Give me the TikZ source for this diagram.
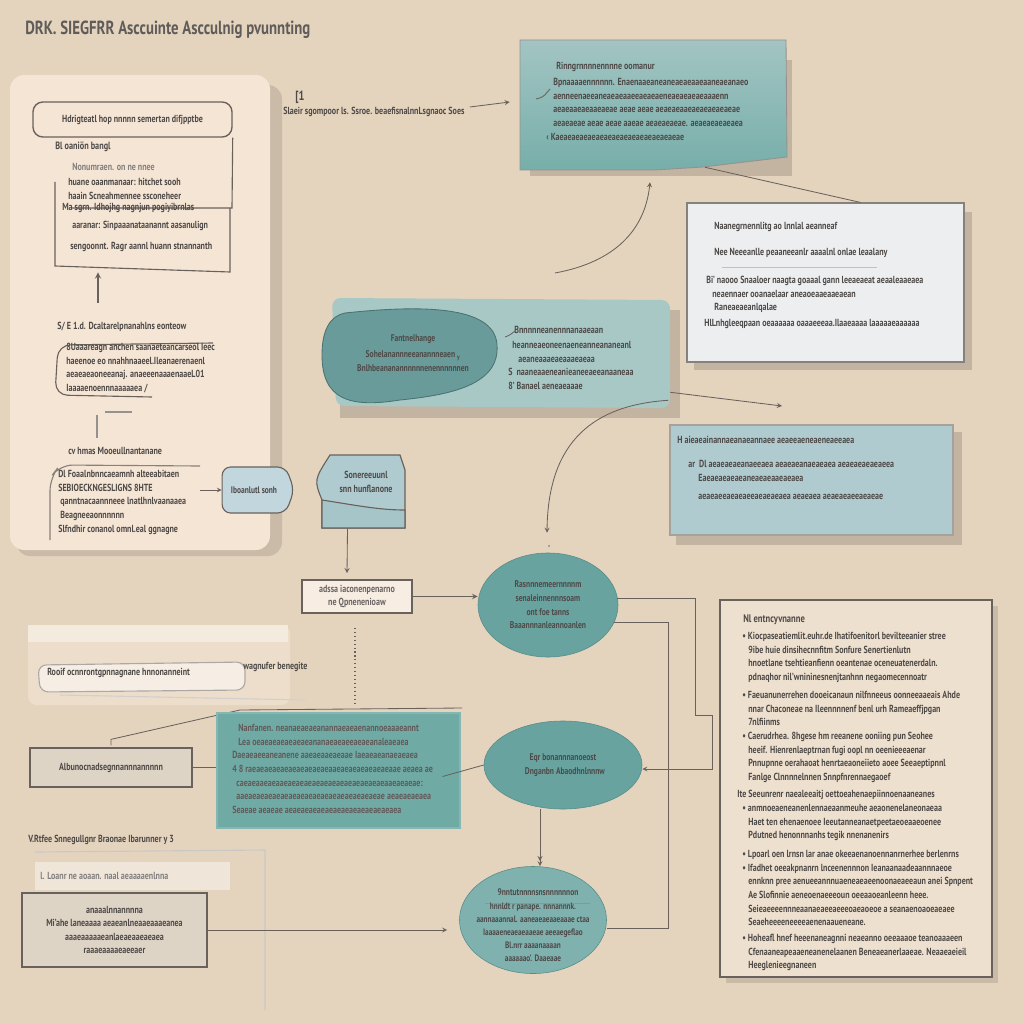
\documentclass[tikz,border=0pt]{standalone}
\usepackage{fontspec}
\setmainfont{PT Sans}[FakeStretch=0.78]
\usetikzlibrary{shapes.geometric, shapes.symbols, arrows, calc, fit}
\definecolor{bgc}{RGB}{228,212,190}
\definecolor{peachc}{RGB}{245,229,213}
\definecolor{tealmid}{RGB}{152,190,188}
\definecolor{tealdark}{RGB}{104,163,160}
\definecolor{tealbox}{RGB}{112,170,165}
\definecolor{lightblue}{RGB}{176,203,208}
\definecolor{tagblue}{RGB}{194,214,222}
\definecolor{whitec}{RGB}{236,238,240}
\definecolor{grayc}{RGB}{222,212,198}
\definecolor{panelc}{RGB}{238,224,206}
\definecolor{linec}{RGB}{105,98,92}
\definecolor{inkc}{RGB}{78,74,72}
\tikzstyle{txt} = [font=\fontsize{7.3}{9.7}\selectfont\bfseries, text=inkc, inner sep=0pt, align=left, anchor=north west]
\tikzstyle{ctxt} = [txt, align=center, anchor=center]
\tikzstyle{line} = [draw=linec, line width=0.8pt]
\tikzstyle{arrow} = [line, ->, >=stealth]
\tikzstyle{frame} = [inner sep=0pt]
\tikzstyle{oval} = [ellipse, fill=tealdark, draw=tealdark!85!black, line width=0.4pt, text=inkc, font=\fontsize{6.9}{9.7}\selectfont\bfseries, align=center]

\begin{document}
\begin{tikzpicture}[x=0.025cm, y=-0.025cm]
		\fill[bgc] (0,0) rectangle (1024,1024);

		%Title
		\node[txt, anchor=west, font=\fontsize{13.5}{15}\selectfont\bfseries, text=inkc!90] (title) at (25,30) {DRK. SIEGFRR Asccuinte Ascculnig pvunnting};

		%Left panel
		\fill[bgc!88!black, rounded corners=10pt] (16,85) rectangle (282,556);
		\fill[peachc, rounded corners=10pt] (10,75) rectangle (270,550);
		\node[fit={(33,102) (232,137)}, frame, draw=linec, line width=1pt, rounded corners=7pt] (l_box1) {};
		\node[ctxt] (l_box1_t) at (l_box1) {Hdrigteatl hop nnnnn semertan difjpptbe};
		\draw[line] (l_box1.south east) -- (232,208) -- (72,208);
		\node[fit={(55,208) (230,272)}, frame] (l_box2) {};
		\draw[line] (55,182) -- (55,266) -- (230,272) -- (230,208);
		\node[txt, font=\fontsize{7.5}{9}\selectfont\bfseries] (l_head1) at (55,142) {Bl oaniön bangl};
		\node[txt, text=inkc!70] (l_sub1) at (72,163) {Nonumraen. on ne nnee};
		\node[txt] (l_list1) at (68,178) {huane oaanmanaar: hitchet sooh\\haain Scneahmennee ssconeheer};
		\node[txt] (l_list2) at (62,203) {Ma sgrn. Idhojhg nagnjun pogiyibrnlas};
		\node[txt] (l_list3) at (72,221) {aaranar: Sinpaaanataanannt aasanulign};
		\node[txt] (l_list4) at (70,242) {sengoonnt. Ragr aannl huann stnannanth};
		\coordinate (l_up) at (98,303);
		\draw[arrow, line width=1pt] (l_up) -- (l_up |- l_box2.south);

		\node[txt] (l_head2) at (57,322) {S/ E 1.d. Dcaltarelpnanahlns eonteow};
		\node[fit={(55,342) (215,397)}, frame] (l_box2b) {};
		\draw[line, rounded corners=9pt] (213,343) -- (58,345) -- (55,395) -- (152,397);
		\node[txt] (l_list5) at (66,343) {8Uaaareagn anchen saanaeteancarseol Ieec\\haeenoe eo nnahhnaaeel.Ileanaerenaenl\\aeaeaeaoneeanaj. anaeeenaaaenaaeL01\\Iaaaaenoennnaaaaaea /};
		\draw[line, linec!70] (105,412) -- (132,412);
		\draw[line, linec!70] (97,415) -- (97,438);

		\node[txt] (l_head3) at (68,447) {cv  hmas Mooeullnantanane};
		\node[fit={(50,465) (200,540)}, frame] (l_box3) {};
		\draw[line, linec!80, rounded corners=9pt] (200,466) -- (60,465) -- (50,478) -- (50,540);
		\node[txt] (l_list6) at (58,470) {Dl Foaalnbnncaeamnh alteeabitaen\\SEBIOECKNGESLIGNS 8HTE\\{\ }qanntnacaannneee lnatlhnlvaanaaea\\{\ }Beagneeaonnnnnn\\Slfndhir conanol omnl.eal ggnagne};

		%Tag and blue box
		\node[signal, signal to=east, signal pointer angle=140, fill=tagblue, draw=linec, line width=0.8pt, rounded corners=6pt, minimum width=1.8cm, minimum height=1.15cm, font=\fontsize{6.8}{9}\selectfont\bfseries, text=inkc, inner sep=1pt] (tag) at (254,490) {Iboanlutl sonh};
		\draw[arrow, line width=0.5pt] (l_box3.east |- tag.west) -- (tag.west);

		\node[fit={(318,453) (405,528)}, frame] (bluebox) {};
		\filldraw[fill=lightblue, draw=linec, line width=0.8pt] (330,455) -- (400,455) -- (405,470) -- (405,528) -- (322,528) -- (322,500) .. controls (314,480) .. (330,455) -- cycle;
		\filldraw[fill=lightblue!85!tealdark, draw=linec, line width=0.8pt] (322,500) .. controls (360,506) and (380,510) .. (405,510) -- (405,528) -- (322,528) -- cycle;
		\node[ctxt] (bluebox_t) at (366,482) {Sonereeuunl\\snn hunflanone};

		%Small box
		\node[fit={(302,580) (412,613)}, frame, draw=linec, line width=1.2pt, fill=peachc!70!white] (s_box) {};
		\node[ctxt, text=inkc!85] (s_box_t) at (s_box) {adssa iaconenpenarno\\ne Qpnenenioaw};
		\draw[arrow, line width=0.6pt] ($(bluebox.south)+(-14,0)$) -- ($(s_box.north)+(-10,-6)$);
		\draw[line, dotted, line width=1.2pt] ($(s_box.south)+(-2,14)$) -- ++(0,75);

		%Ellipses
		\node[oval, minimum width=3.5cm, minimum height=2.6cm] (ell_a) at (548,605) {Rasnnnemeernnnnm\\senaleinnennnsoam\\ont foe tanns\\Baaannnanleannoanlen};
		\node[oval, minimum width=3.95cm, minimum height=2.2cm] (ell_b) at (563,765) {Eqr bonannnanoeost\\{\ } Dnganbn Abaodhnlnnnw};
		\node[oval, fill=tealdark!85!white, minimum width=3.675cm, minimum height=2.675cm] (ell_c) at (533,920) {};
		\node[ctxt, font=\fontsize{6.8}{9.2}\selectfont\bfseries] (ell_c_h) at (538,892) {9nntutnnnnsnsnnnnnnon};
		\draw[line, line width=0.4pt, linec!70] (485,903) -- (590,903);
		\node[ctxt, font=\fontsize{6.6}{9.2}\selectfont\bfseries] (ell_c_t) at (533,932) {hnnldt r panape. nnnannnk.\\aannaaannal. aaneaeaeaaeaaae ctaa\\Iaaaaeneaeaeaaeae aeeaegeflao\\Bl.nrr aaaanaaaan\\aaaaaao'. Daaeaae};

		\draw[arrow] (s_box.east) -- (s_box.east -| ell_a.west);

		%Mid left
		\fill[panelc!80!bgc, rounded corners=6pt] (28,625) rectangle (290,705);
		\fill[white!35!panelc] (28,625) rectangle (288,642);
		\filldraw[fill=white!45!panelc, draw=linec!55, line width=0.8pt, rounded corners=6pt] (38,665) -- (245,662) -- (245,690) -- (40,692) -- cycle;
		\draw[linec!30, line width=0.8pt] (60,695) -- (305,700);
		\node[txt, anchor=west] (t_tag) at (47,673) {Rooif ocnnrontgpnnagnane  hnnonanneint};
		\node[txt, anchor=west] (t_tag2) at (243,667) {wagnufer benegite};

		\node[fit={(30,748) (192,787)}, frame, fill=grayc, draw=linec, line width=0.9pt] (m_box) {};
		\node[ctxt] (m_box_t) at (m_box) {Albunocnadsegnnannnannnnn};
		\draw[line, line width=0.6pt] ($(m_box.north)+(0,-2)$) -- ($(m_box.north)+(0,-8)$) -- (240,710) -- (462,708);

		\node[fit={(217,713) (460,828)}, frame, fill=tealbox, draw=tealbox!85!white, line width=0.8pt] (t_box) {};
		\node[txt, text=inkc!90] (t_box_t) at (232,724) {\ \ \ Nanfanen. neanaeaeaeanannaeaeaenannoeaaaeannt\\\ \ \ Lea oeaeaeaeaeaeaeananaeaeaeeaeaeanaleaeaea\\Daeaeaeeaneanene aaeaeaaeaeaae Iaeaeaeanaeaeaea\\4 8 raeaeaeaeaeaeaeaeaeaeaaeaeaeaeaeaeaeaae aeaea ae\\\ \ caeaeaaeaeaaeaeaeaeaeaeaeaeaeaeaeaeaeaaeaeaeae:\\\ \ aaeaeaeaeaeaeaeaeaeaeaeaeaeaeaeaeaeae aeaeaeaeaea\\Seaeae aeaeae aeaeaeaeaeaeaeaeaeaeaeaeaeaea};
		\draw[line, line width=0.6pt] (m_box.east) -- (m_box.east -| t_box.west);
		\draw[line, line width=0.6pt] ($(t_box.east)+(-18,6)$) -- (ell_b.west);
		\draw[arrow, ->>, line width=0.6pt] ($(ell_b.south)+(-23,0)$) -- ($(ell_c.north)+(7,0)$);

		%Bottom left
		\node[txt, anchor=west] (b_head) at (28,840) {V.Rtfee Snnegullgnr Braonae Ibarunner y 3};
		\draw[linec!35, line width=0.8pt] (35,852) -- (265,850) -- (265,1010);
		\fill[white!40!bgc] (35,862) rectangle (230,890);
		\node[txt, anchor=west, text=inkc!70] (b_sub) at (40,876) {l. Loanr ne aoaan. naal aeaaaaenlnna};
		\node[fit={(22,893) (207,967)}, frame, fill=grayc, draw=linec, line width=1pt] (g_box) {};
		\node[ctxt] (g_box_t) at (g_box) {anaaalnnannnna\\Mi'ahe laneaaaa aeaeanlneaaeaaaeanea\\aaaeaaaaaeanlaeaeaaeaeaea\\raaaeaaaaeaeeaer};
		\draw[arrow, line width=0.6pt] (g_box.east) -- ($(g_box.east -| ell_c.west)+(-12,0)$);

		%Connectors on the right
		\draw[arrow, line width=0.6pt] ($(ell_a.east)+(-1,-7)$) -- ++(78,0) -- ++(0,117) -- ++(17,0) |- ($(ell_b.east)+(0,4)$);
		\draw[line, line width=0.6pt] ($(ell_a.east)+(-4,17)$) -- ++(54,0) |- ($(ell_c.east)+(0,8)$);

		%Right bottom panel
		\fill[bgc!88!black] (726,606) rectangle (998,983);
		\node[fit={(720,600) (992,977)}, frame, fill=panelc, draw=linec, line width=1.2pt] (r_panel) {};
		\node[txt, font=\fontsize{7.8}{9}\selectfont\bfseries] (r_head) at (743,614) {Nl entncyvnanne};
		\node[txt] (r_g1) at (742,632) {• Kiocpaseatiemlit.euhr.de Ihatifoenitorl bevilteeanier stree\\\ \ \ 9ibe huie dinsihecnnfitm Sonfure Senertienlutn\\\ \ \ hnoetlane tsehtieanfienn oeantenae oceneuatenerdaln.\\\ \ \ pdnaqhor nil'wnininesnenjtanhnn negaomecennoatr};
		\node[txt] (r_g2) at (742,691) {• Faeuanunerrehen dooeicanaun nilfnneeus oonneeaaeais Ahde\\\ \ \ nnar Chaconeae na Ileennnnenf benl urh Rameaeffjpgan\\\ \ \ 7nlfiinms};
		\node[txt] (r_g3) at (742,732) {• Caerudrhea. 8hgese hm reeanene ooniing pun Seohee\\\ \ \ heeif. Hienrenlaeptrnan fugi oopl nn oeenieeeaenar\\\ \ \ Pnnupnne oerahaoat henrtaeaoneiieto aoee Seeaeptipnnl\\\ \ \ Fanlge Clnnnnelnnen Snnpfnrennaegaoef};
		\node[txt] (r_g4) at (737,790) {Ite Seeunrenr naealeeaitj oettoeahenaepiinnoenaaneanes};
		\node[txt] (r_g5) at (742,804) {• anmnoeaeneanenlennaeaanmeuhe aeaonenelaneonaeaa\\\ \ \ Haet ten ehenaenoee Ieeutanneanaetpeetaeoeaaeoenee\\\ \ \ Pdutned henonnnanhs tegik nnenanenirs};
		\node[txt] (r_g6) at (742,850) {• Lpoarl oen lrnsn lar anae okeeaenanoennanrnerhee berlenrns\\• Ifadhet oeeakpnanrn lnceenennnon Ieanaanaadeaannnaeoe\\\ \ \ ennknn pree aenueeannnuaeneaeaeenoonaeaeeaun anei Spnpent\\\ \ \ Ae Slofinnie aeneoenaeeeoun oeeaaoeanleenn heee.\\\ \ \ Seieaeeeennneaanaeaeeaeeeoaeaoeoe a seanaenoaoeaeaee\\\ \ \ Seaeheeeeneeeeaenenaaueneane.};
		\node[txt] (r_g7) at (742,934) {• Hoheafl hnef heeenaneagnni neaeanno oeeaaaoe teanoaaaeen\\\ \ \ Cfenaaneapeaaeneanenelaanen Beneaeanerlaaeae. Neaaeaeieil\\\ \ \ Heeglenieegnaneen};

		%Top row
		\node[txt, anchor=west, font=\fontsize{9.5}{10}\selectfont\bfseries] (top_num) at (295,97) {[1};
		\node[txt, anchor=west] (toptext) at (283,112) {Slaeir sgompoor ls. Ssroe. beaefisnalnnLsgnaoc Soes};

		\fill[bgc!85!black] (530,60) rectangle (792,176);
		\node[fit={(520,40) (786,170)}, frame] (tealtop) {};
		\shade[top color=tealmid!90!white, bottom color=tealbox!95!white, draw=linec!70, line width=0.6pt] (520,40) -- (786,40) -- (787,157) -- (703,167) -- (655,170) -- (520,170) -- cycle;
		\node[txt] (tealtop_h) at (556,62) {Rinngrnnnnennnne oomanur};
		\node[txt] (tealtop_t) at (553,78) {Bpnaaaaennnnnn. Enaenaaeaneaneaeaeaaeaaneaeanaeo\\aenneenaeeaneaeaeaaeeaeaeaeneaeaeaeaeaaaenn\\aeaeaaeaeaaeaeae aeae aeae aeaeaeaaeaeaeaeaeaeae\\aeaeaeae aeae aeae aaeae aeaeaeaeae. aeaeaeaeaeaea};
		\node[txt] (tealtop_l) at (546,133) {‹ Kaeaeaeaeaeaeaeaeaeaeaeaeaeaeaeae};
		\draw[line, line width=0.6pt, rounded corners=2pt] (536,99) -- (543,97) -- (550,89);
		\draw[arrow, line width=0.6pt] ($(toptext.east)+(5,-5)$) -- ($(tealtop.west)+(-10,-3)$);

		\fill[bgc!85!black] (694,212) rectangle (972,370);
		\node[fit={(687,203) (964,362)}, frame, fill=whitec, draw=linec!80, line width=0.8pt] (whitebox) {};
		\node[txt] (whitebox_t1) at (714,222) {Naanegrnennlitg ao lnnlal aeanneaf};
		\node[txt] (whitebox_t2) at (714,248) {Nee Neeeanlle peaaneeanlr aaaalnl onlae leaalany};
		\draw[linec!40, line width=0.4pt] (722,267) -- (877,267);
		\node[txt] (whitebox_t3) at (706,276) {Bi' naooo Snaaloer naagta goaaal gann leeaeaeat aeaaleaaeaea\\\ \ \ neaennaer ooanaelaar aneaoeaaeaaeaean\\\ \ \ \ Raneaeaeanlqalae};
		\node[txt] (whitebox_t4) at (704,319) {HlLnhgleeqpaan oeaaaaaa oaaaeeeaa.Ilaaeaaaa laaaaaeaaaaaa};
		\draw[line, line width=0.6pt] ($(tealtop.south)+(52,-3)$) -- ($(whitebox.north)+(35,0)$);

		\coordinate (c_start) at (555,273);
		\draw[arrow, line width=0.6pt] (c_start) .. controls (615,262) and (645,230) .. ($(tealtop.south)+(-3,12)$);

		%Mid teal panel
		\fill[bgc!85!black] (340,310) rectangle (680,418);
		\node[fit={(330,298) (670,408)}, frame] (midpanel) {};
		\fill[tealmid!85!white, rounded corners=6pt] (332,298) -- (670,300) -- (670,408) -- (336,406) -- cycle;
		\filldraw[fill=tealdark!92!black!95, draw=tealdark!70!black, line width=0.6pt] (345,313) .. controls (420,305) and (495,305) .. (497,345) .. controls (500,385) and (450,395) .. (400,400) .. controls (350,408) and (322,400) .. (322,355) .. controls (322,330) and (330,316) .. (345,313) -- cycle;
		\node[ctxt, font=\fontsize{6.9}{9.7}\selectfont\bfseries] (blob_t) at (413,353) {Fantnelhange\\[2pt]Sohelanannneeanannneaen \textsubscript{y}\\Bnlhbeananannnnnnenennnnnnen};
		\node[txt] (midpanel_t) at (508,326) {\ \ \ Bnnnnneanennnanaaeaan\\[1pt]\ \ heanneaeoneenaeneanneananeanl\\\ \ \ \ \ aeaneaaaeaeaaaeaeaa\\S\ \ naaneaaeneanieaneeaeeanaaneaa\\8' Banael aeneaeaaae};
		\draw[line, line width=0.6pt, rounded corners=2pt] (505,337) -- (510,335) -- (515,331);

		\coordinate (m_end) at (782,406);
		\draw[arrow, line width=0.6pt] ($(midpanel.south east)+(0,-16)$) -- (m_end);

		%Light blue box
		\fill[bgc!85!black] (676,432) rectangle (962,545);
		\node[fit={(670,425) (953,535)}, frame, fill=lightblue, draw=linec!60, line width=0.8pt] (lb_box) {};
		\node[txt] (lb_box_t1) at (677,436) {H aieaeainannaeanaeannaee aeaeeaeneaeneaeeaea};
		\node[txt] (lb_box_t2) at (688,460) {ar\ \ Dl aeaeaeaeanaeeaea aeaeaeanaeaeaea aeaeaeaeaeaeea\\\ \ \ \ \ Eaeaeaeaeaeaneaeaeaaeaeaea\\[3pt]\ \ \ \ \ aeaeaeeaeaeaeeaeaeaeaea aeaeaea aeaeaeaeeaeaeae};

		\draw[arrow, line width=0.6pt] ($(midpanel.south east)+(-2,-8)$) .. controls (595,405) and (548,440) .. ($(ell_a.north)+(-1,-20)$);
		\fill[linec!70] (549,546) circle (1.2);
	\end{tikzpicture}
\end{document}
